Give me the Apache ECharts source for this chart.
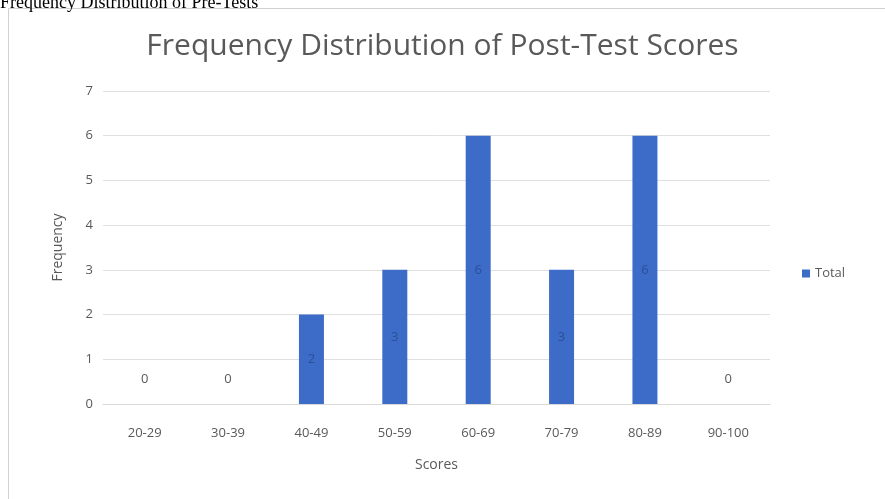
<!DOCTYPE html>
<html><head><meta charset="utf-8">
<script src="https://cdn.jsdelivr.net/npm/echarts@6/dist/echarts.min.js"></script>
<style>html,body{margin:0;padding:0;background:#fff}#c{width:885px;height:499px}</style>
</head><body><div id="c"></div>
<script>
const categories = ['20-29','30-39','40-49','50-59','60-69','70-79','80-89','90-100'];
const totals = [0,0,2,3,6,3,6,0];
const yTicks = [0,1,2,3,4,5,6,7];

const chart = echarts.init(document.getElementById('c'));
const txt = '#595959';
const data = totals.map(v => v === 0
  ? {value: v, label: {position: 'top', distance: 18, color: txt}}
  : {value: v});
chart.setOption({
  animation: false,
  backgroundColor: '#fff',
  graphic: [
    {type: 'rect', shape: {x: 8.5, y: 8.5, width: 890, height: 500}, style: {fill: 'none', stroke: '#d0d0d0', lineWidth: 1}, z: -1},
    {type: 'text', left: 0, top: -6, style: {text: 'Frequency Distribution of Pre-Tests', font: '18px "Liberation Serif"', fill: '#000'}}
  ],
  title: {text: 'Frequency Distribution of Post-Test Scores', left: 'center', top: 26,
    textStyle: {fontFamily: 'Open Sans', fontSize: 30, fontWeight: 'normal', color: txt}},
  legend: {orient: 'vertical', left: 797, top: 262, itemWidth: 8, itemHeight: 8, itemGap: 4,
    icon: 'rect', textStyle: {color: txt, fontFamily: 'Open Sans', fontSize: 13}},
  grid: {left: 103, right: 115, top: 91, bottom: 95},
  xAxis: {type: 'category', data: categories, name: 'Scores', nameLocation: 'middle', nameGap: 54,
    nameTextStyle: {color: txt, fontFamily: 'Open Sans', fontSize: 14},
    axisLine: {lineStyle: {color: '#d9d9d9'}}, axisTick: {show: false},
    axisLabel: {color: txt, fontFamily: 'Open Sans', fontSize: 13, margin: 23}},
  yAxis: {type: 'value', min: yTicks[0], max: yTicks[yTicks.length-1], interval: 1,
    name: 'Frequency', nameLocation: 'middle', nameGap: 38,
    nameTextStyle: {color: txt, fontFamily: 'Open Sans', fontSize: 14},
    axisLine: {show: false}, axisTick: {show: false},
    axisLabel: {color: txt, fontFamily: 'Open Sans', fontSize: 13, margin: 10},
    splitLine: {lineStyle: {color: '#e0e0e0'}}},
  series: [{name: 'Total', type: 'bar', data: data, barWidth: 25,
    itemStyle: {color: '#3d6cc8'},
    label: {show: true, position: 'inside', color: '#2c4f96', fontFamily: 'Open Sans', fontSize: 13}}]
});
</script></body></html>
